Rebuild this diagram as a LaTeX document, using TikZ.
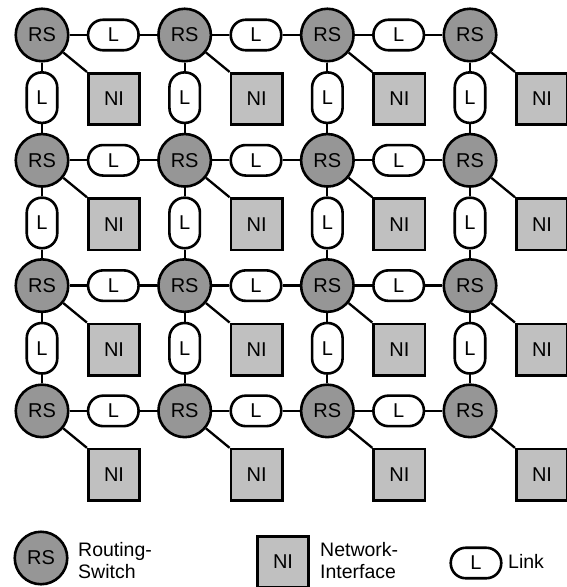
\documentclass[tikz,border=0pt]{standalone}
\usepackage{fontspec}
\setmainfont{Liberation Sans}
\usetikzlibrary{positioning}

\definecolor{rsgray}{RGB}{150,150,150}
\definecolor{nigray}{RGB}{192,192,192}

\begin{document}
\begin{tikzpicture}[x=1pt,y=-1pt,on grid,
    font=\fontsize{20}{22}\selectfont,
    rs/.style={circle,draw,line width=2.6pt,fill=rsgray,minimum size=52.5pt,inner sep=0pt},
    ni/.style={rectangle,draw,line width=2.6pt,fill=nigray,minimum size=51.5pt,inner sep=0pt},
    lnk/.style={rectangle,rounded corners=15pt,draw,line width=2.6pt,fill=white,
                minimum width=50.5pt,minimum height=30.5pt,inner sep=0pt},
    lnkv/.style={lnk,minimum width=30.5pt,minimum height=50.5pt},
    wire/.style={line width=2.3pt},
    key/.style={anchor=west,align=left,inner sep=0pt,font=\fontsize{19.5}{22}\selectfont}]
  \useasboundingbox (0,0) rectangle (567,587);

  % routing switches and their network interfaces
  \foreach \r in {1,...,4}
    \foreach \c in {1,...,4} {
      \node[rs] (rs-\r-\c) at ({42+142.67*(\c-1)},{35+125.3*(\r-1)}) {RS};
      \node[ni] (ni-\r-\c) [below right=64pt and 72pt of rs-\r-\c] {NI};
      \draw[wire] (rs-\r-\c) -- (ni-\r-\c.north west);
    }

  % horizontal links
  \foreach \r in {1,...,4}
    \foreach \c/\n in {1/2,2/3,3/4} {
      \node[lnk] (lh-\r-\c) [right=71.33pt of rs-\r-\c] {L};
      \draw[wire] (rs-\r-\c) -- (lh-\r-\c) -- (rs-\r-\n);
    }

  % vertical links
  \foreach \r/\n in {1/2,2/3,3/4}
    \foreach \c in {1,...,4} {
      \node[lnkv] (lv-\r-\c) [below=62.65pt of rs-\r-\c] {L};
      \draw[wire] (rs-\r-\c) -- (lv-\r-\c) -- (rs-\n-\c);
    }

  % legend
  \node[rs]  (key-rs) at (41,558) {RS};
  \node[key] (key-rs-text) at (78,561) {Routing-\\Switch};
  \node[ni]  (key-ni) at (283,562) {NI};
  \node[key] (key-ni-text) at (320,561) {Network-\\Interface};
  \node[lnk] (key-l) at (476,563) {L};
  \node[key] (key-l-text) at (508,561) {Link};
\end{tikzpicture}
\end{document}
